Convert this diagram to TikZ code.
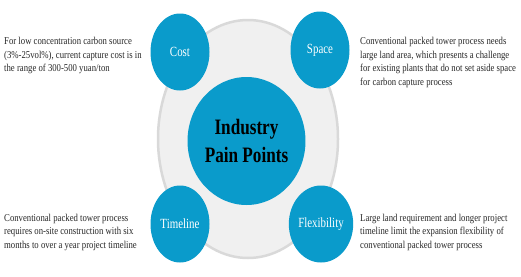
\documentclass[tikz,border=0pt]{standalone}
\usepackage{fontspec}
\setmainfont{Liberation Serif}
\newfontfamily\noteserif[FakeStretch=0.83]{Liberation Serif}
\newfontfamily\labelserif[FakeStretch=0.78]{Liberation Serif}
\usetikzlibrary{shapes.geometric}
\definecolor{painBlue}{HTML}{0A9BCB}
\definecolor{ringFill}{HTML}{F0F0F0}
\definecolor{ringEdge}{HTML}{D9D9D9}

\begin{document}
\begin{tikzpicture}[x=1pt,y=-1pt,
  bubble/.style={ellipse,fill=painBlue,text=white,inner sep=0pt,minimum width=59pt,minimum height=77pt,font=\labelserif\fontsize{14}{16}\selectfont},
  note/.style={anchor=west,align=left,inner sep=0pt,text=black!85,font=\noteserif\fontsize{10.5}{13.5}\selectfont}]
  \useasboundingbox (0,0) rectangle (521,276);
  % grey ring behind everything
  \node[ellipse,fill=ringFill,draw=ringEdge,line width=2.5pt,minimum width=180pt,minimum height=238pt] (ring) at (248,139) {};
  % centre
  \node[ellipse,fill=painBlue,inner sep=0pt,minimum width=95pt,minimum height=128pt,align=center,
        font=\labelserif\bfseries\fontsize{22}{28}\selectfont] (core) at (246.5,141) {Industry\\Pain Points};
  % four corners
  \node[bubble] (cost) at (180,52) {Cost};
  \node[bubble] (space) at (320,50) {Space};
  \node[bubble] (timeline) at (180,224) {Timeline};
  \node[bubble] (flex) at (321,224) {Flexibility};
  % side notes
  \node[note] (costnote) at (4,55.5) {For low concentration carbon source\\(3\%-25vol\%), current capture cost is in\\the range of 300-500 yuan/ton};
  \node[note] (spacenote) at (360,62.5) {Conventional packed tower process needs\\large land area, which presents a challenge\\for existing plants that do not set aside space\\for carbon capture process};
  \node[note] (timenote) at (4,232) {Conventional packed tower process\\requires on-site construction with six\\months to over a year project timeline};
  \node[note] (flexnote) at (360,232) {Large land requirement and longer project\\timeline limit the expansion flexibility of\\conventional packed tower process};
\end{tikzpicture}
\end{document}
